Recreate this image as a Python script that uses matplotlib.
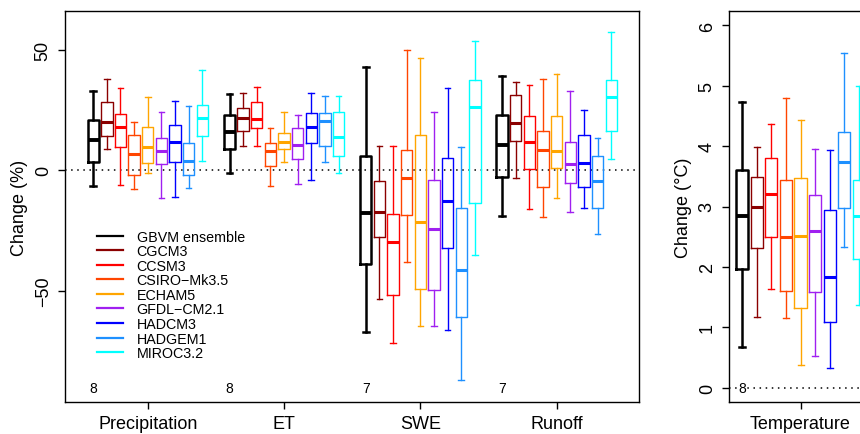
import matplotlib
matplotlib.use("Agg")
import matplotlib.pyplot as plt
from matplotlib.lines import Line2D

plt.rcParams['font.family'] = ['Liberation Sans', 'DejaVu Sans']

MODELOS = ["GBVM ensemble", "CGCM3", "CCSM3", "CSIRO\u2212Mk3.5", "ECHAM5",
           "GFDL\u2212CM2.1", "HADCM3", "HADGEM1", "MIROC3.2"]
COLORES = ["black", "#8B0000", "#FF0000", "#FF4500", "#FFA500",
           "#A020F0", "#0000FF", "#1E90FF", "#00FFFF"]

VARIABLES = ["Precipitation", "ET", "SWE", "Runoff"]
N_MODELOS = [8, 8, 7, 7]

# cambio (%) -- whisker inf, Q1, mediana, Q3, whisker sup (una entrada por modelo)
precip_min = [-6.6, 8.7, -6.1, -7.8, -1.2, -11.6, -11.2, -7.5, 3.9]
precip_q1 = [3.3, 14.4, 9.7, -1.9, 3.2, 2.8, 3.5, -1.9, 14.1]
precip_med = [12.4, 19.9, 18.1, 6.6, 9.7, 7.8, 11.6, 3.7, 21.6]
precip_q3 = [20.7, 28.3, 23.2, 14.7, 18.1, 13.3, 18.8, 11.3, 27.1]
precip_max = [32.9, 37.8, 34.3, 20.2, 30.3, 24.2, 28.6, 26.7, 41.4]

et_min = [-1.2, 10.1, 10.1, -6.4, 3.6, -5.7, -4.0, 3.6, -1.0]
et_q1 = [8.7, 16.1, 17.7, 1.8, 8.8, 4.8, 11.5, 10.0, 5.8]
et_med = [15.8, 21.6, 21.4, 8.0, 11.6, 10.4, 18.1, 20.5, 13.8]
et_q3 = [22.9, 26.0, 28.3, 11.3, 15.5, 17.7, 23.8, 23.9, 24.2]
et_max = [31.7, 32.1, 34.6, 17.6, 24.2, 22.9, 32.2, 30.8, 30.6]

swe_min = [-66.9, -53.4, -71.5, -38.2, -64.6, -64.5, -66.0, -86.9, -35.1]
swe_q1 = [-38.7, -27.8, -51.7, -18.4, -49.0, -49.4, -32.2, -60.7, -13.4]
swe_med = [-17.8, -17.1, -29.6, -3.3, -21.6, -24.5, -12.6, -41.5, 26.1]
swe_q3 = [5.8, -4.6, -18.3, 8.4, 14.8, -4.0, 5.1, -15.8, 37.6]
swe_max = [42.7, 10.1, 10.1, 49.9, 46.7, 24.1, 34.1, 9.5, 53.7]

runoff_min = [-19.1, -3.0, -16.1, -19.5, -11.6, -17.1, -15.6, -26.6, 4.8]
runoff_q1 = [-2.9, 12.0, 0.5, -6.8, 0.8, -5.4, -6.9, -15.5, 16.3]
runoff_med = [10.5, 19.5, 11.6, 8.6, 7.9, 2.6, 2.9, -4.4, 30.3]
runoff_q3 = [22.9, 31.2, 22.7, 16.3, 22.4, 11.9, 14.7, 6.1, 37.6]
runoff_max = [39.1, 36.6, 35.4, 37.8, 40.0, 32.9, 25.0, 13.4, 57.1]

# temperatura (°C)
temp_min = [0.67, 1.17, 1.64, 1.16, 0.37, 0.53, 0.33, 2.33, 1.36]
temp_q1 = [1.97, 2.31, 2.50, 1.60, 1.31, 1.59, 1.09, 2.97, 2.13]
temp_med = [2.85, 3.00, 3.20, 2.49, 2.51, 2.60, 1.83, 3.74, 2.84]
temp_q3 = [3.60, 3.49, 3.80, 3.44, 3.48, 3.19, 2.94, 4.23, 3.44]
temp_max = [4.73, 3.99, 4.36, 4.79, 4.44, 3.96, 3.94, 5.54, 4.99]

GRUPOS = [
    (precip_min, precip_q1, precip_med, precip_q3, precip_max),
    (et_min, et_q1, et_med, et_q3, et_max),
    (swe_min, swe_q1, swe_med, swe_q3, swe_max),
    (runoff_min, runoff_q1, runoff_med, runoff_q3, runoff_max),
]

ANCHO = 0.083
PASO = 0.1


def dibujar_grupo(ax, centro, stats):
    mins, q1s, meds, q3s, maxs = stats
    for i in range(len(MODELOS)):
        color = COLORES[i]
        lw = 1.8 if i == 0 else 1.0
        mlw = 2.8 if i == 0 else 2.2
        caja = dict(whislo=mins[i], q1=q1s[i], med=meds[i], q3=q3s[i],
                    whishi=maxs[i], fliers=[])
        pos = centro + (i - 4) * PASO
        ax.bxp([caja], positions=[pos], widths=ANCHO, capwidths=ANCHO / 2,
               showfliers=False, manage_ticks=False,
               boxprops=dict(color=color, lw=lw),
               whiskerprops=dict(color=color, lw=lw),
               capprops=dict(color=color, lw=lw),
               medianprops=dict(color=color, lw=mlw, solid_capstyle="butt"))


def estilo_eje(ax):
    for lado in ["left", "bottom", "top", "right"]:
        ax.spines[lado].set_linewidth(1.0)
    ax.tick_params(axis="both", direction="out", length=5, width=1.0,
                   labelsize=13, pad=4.5)
    for lbl in ax.get_yticklabels():
        lbl.set_rotation(90)
        lbl.set_va("center")


fig = plt.figure(figsize=(8.6, 4.35), dpi=100)

# panel izquierdo: cambios en %
ax1 = fig.add_axes([65 / 860, 32 / 435, 574 / 860, 391 / 435])
ax1.axhline(0, color="black", lw=1.1, ls=(0, (1, 3)), zorder=0)
for k, stats in enumerate(GRUPOS):
    dibujar_grupo(ax1, k + 1, stats)
    ax1.text(k + 1 - 4 * PASO, -90, str(N_MODELOS[k]), ha="center",
             va="center", fontsize=10)
ax1.set_xlim(0.393, 4.604)
ax1.set_ylim(-96, 66)
ax1.set_xticks(range(1, len(VARIABLES) + 1))
ax1.set_xticklabels(VARIABLES)
ax1.set_yticks([-50, 0, 50])
ax1.set_ylabel("Change (%)", fontsize=13, labelpad=5)
estilo_eje(ax1)

lineas = [Line2D([], [], color=c, lw=1.6) for c in COLORES]
ax1.legend(lineas, MODELOS, loc="upper left", bbox_to_anchor=(0.055, 0.441),
           frameon=False, fontsize=10.3, handlelength=1.85, handletextpad=0.95,
           labelspacing=0.04, borderpad=0, borderaxespad=0)

# panel derecho: temperatura
ax2 = fig.add_axes([729 / 860, 32 / 435, 146 / 860, 391 / 435])
ax2.axhline(0, color="black", lw=1.1, ls=(0, (1, 3)), zorder=0)
dibujar_grupo(ax2, 1, (temp_min, temp_q1, temp_med, temp_q3, temp_max))
ax2.text(1 - 4 * PASO, 0, "8", ha="center", va="center", fontsize=10,
         bbox=dict(facecolor="white", edgecolor="none", pad=0.5))
ax2.set_xlim(0.51, 1.51)
ax2.set_ylim(-0.24, 6.24)
ax2.set_xticks([1])
ax2.set_xticklabels(["Temperature"])
ax2.set_yticks(range(0, 7))
ax2.set_ylabel("Change (\u00b0C)", fontsize=13, labelpad=5)
estilo_eje(ax2)

fig.savefig("out.png", dpi=100)
